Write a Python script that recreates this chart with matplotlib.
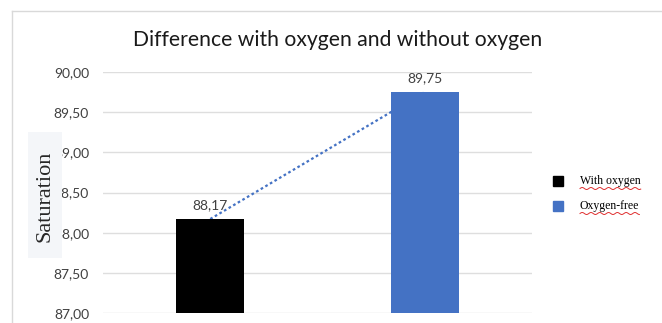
import numpy as np
import matplotlib
matplotlib.use("Agg")
import matplotlib.pyplot as plt
from matplotlib.lines import Line2D
from matplotlib.patches import Rectangle
from matplotlib.ticker import FuncFormatter

categories = ["With oxygen", "Oxygen-free"]
values = [88.17, 89.75]
bar_colors = ["#000000", "#4472C4"]
y_ticks = [87.0, 87.5, 88.0, 88.5, 89.0, 89.5, 90.0]

W, H = 662, 323
fig = plt.figure(figsize=(W / 100, H / 100), dpi=100)
fig.patch.set_facecolor("white")

# chart-area frame (left and top edges)
fig.add_artist(Line2D([12 / W, 12 / W], [0, 1 - 11 / H], color="#d9d9d9", lw=1))
fig.add_artist(Line2D([12 / W, 1], [1 - 11 / H, 1 - 11 / H], color="#d9d9d9", lw=1))

ax = fig.add_axes([103 / W, 10 / H, (532 - 103) / W, (313 - 72) / H])
x = np.arange(len(categories))
ax.bar(x, values, width=0.317, color=bar_colors, zorder=3)
ax.set_xlim(-0.5, 1.5)
ax.set_ylim(87, 90)
ax.set_yticks(y_ticks)
ax.yaxis.set_major_formatter(FuncFormatter(lambda v, p: f"{v:.2f}".replace(".", ",")))
ax.tick_params(axis="y", length=0, pad=10, labelsize=10, labelcolor="#404040")
for lab in ax.get_yticklabels():
    lab.set_fontfamily("Lato")
ax.set_xticks([])
for s in ax.spines.values():
    s.set_visible(False)
ax.grid(axis="y", color="#dedede", lw=1, zorder=0)
ax.set_axisbelow(True)

# linear trend through the two bar tops
coef = np.polyfit(x, values, 1)
ax.plot(x, np.polyval(coef, x), linestyle=(0, (1.2, 1.2)), color="#4472C4", lw=1.6, zorder=2)

for xi, v in zip(x, values):
    ax.annotate(f"{v:.2f}".replace(".", ","), (xi, v), xytext=(0, 6), textcoords="offset points",
                ha="center", va="bottom", fontsize=10, color="#404040", family="Lato")

fig.text(338 / W, 1 - 40 / H, "Difference with oxygen and without oxygen", ha="center", va="center",
         fontsize=15.2, color="#1a1a1a", family="Lato")

# axis title on its own shaded box, drawn above the tick labels
fig.add_artist(Rectangle((28 / W, 1 - 258 / H), 34 / W, 126 / H, transform=fig.transFigure,
                         facecolor="#f4f6f9", edgecolor="none", zorder=5))
fig.text(45 / W, 1 - 196 / H, "Saturation", rotation=90, ha="center", va="center",
         fontsize=16, color="#262626", family="Liberation Serif", zorder=6)

# legend
legend_y = [181, 206]
legend_texts = []
for cat, col, ly in zip(categories, bar_colors, legend_y):
    fig.add_artist(Line2D([558 / W], [1 - ly / H], marker="s", markersize=7, color=col, linestyle="none"))
    t = fig.text(580 / W, 1 - ly / H, cat, ha="left", va="center", fontsize=8.5,
                 color="#000000", family="Liberation Serif")
    legend_texts.append(t)

fig.canvas.draw()
renderer = fig.canvas.get_renderer()
for t in legend_texts:
    bb = t.get_window_extent(renderer)
    xs = np.linspace(bb.x0, bb.x1, 120)
    ys = bb.y0 - 1.5 + 1.0 * np.sin((xs - bb.x0) / 1.4)
    fig.add_artist(Line2D(xs / W, ys / H, color="#e03030", lw=0.7))

fig.savefig("out.png", dpi=100, facecolor="white")
